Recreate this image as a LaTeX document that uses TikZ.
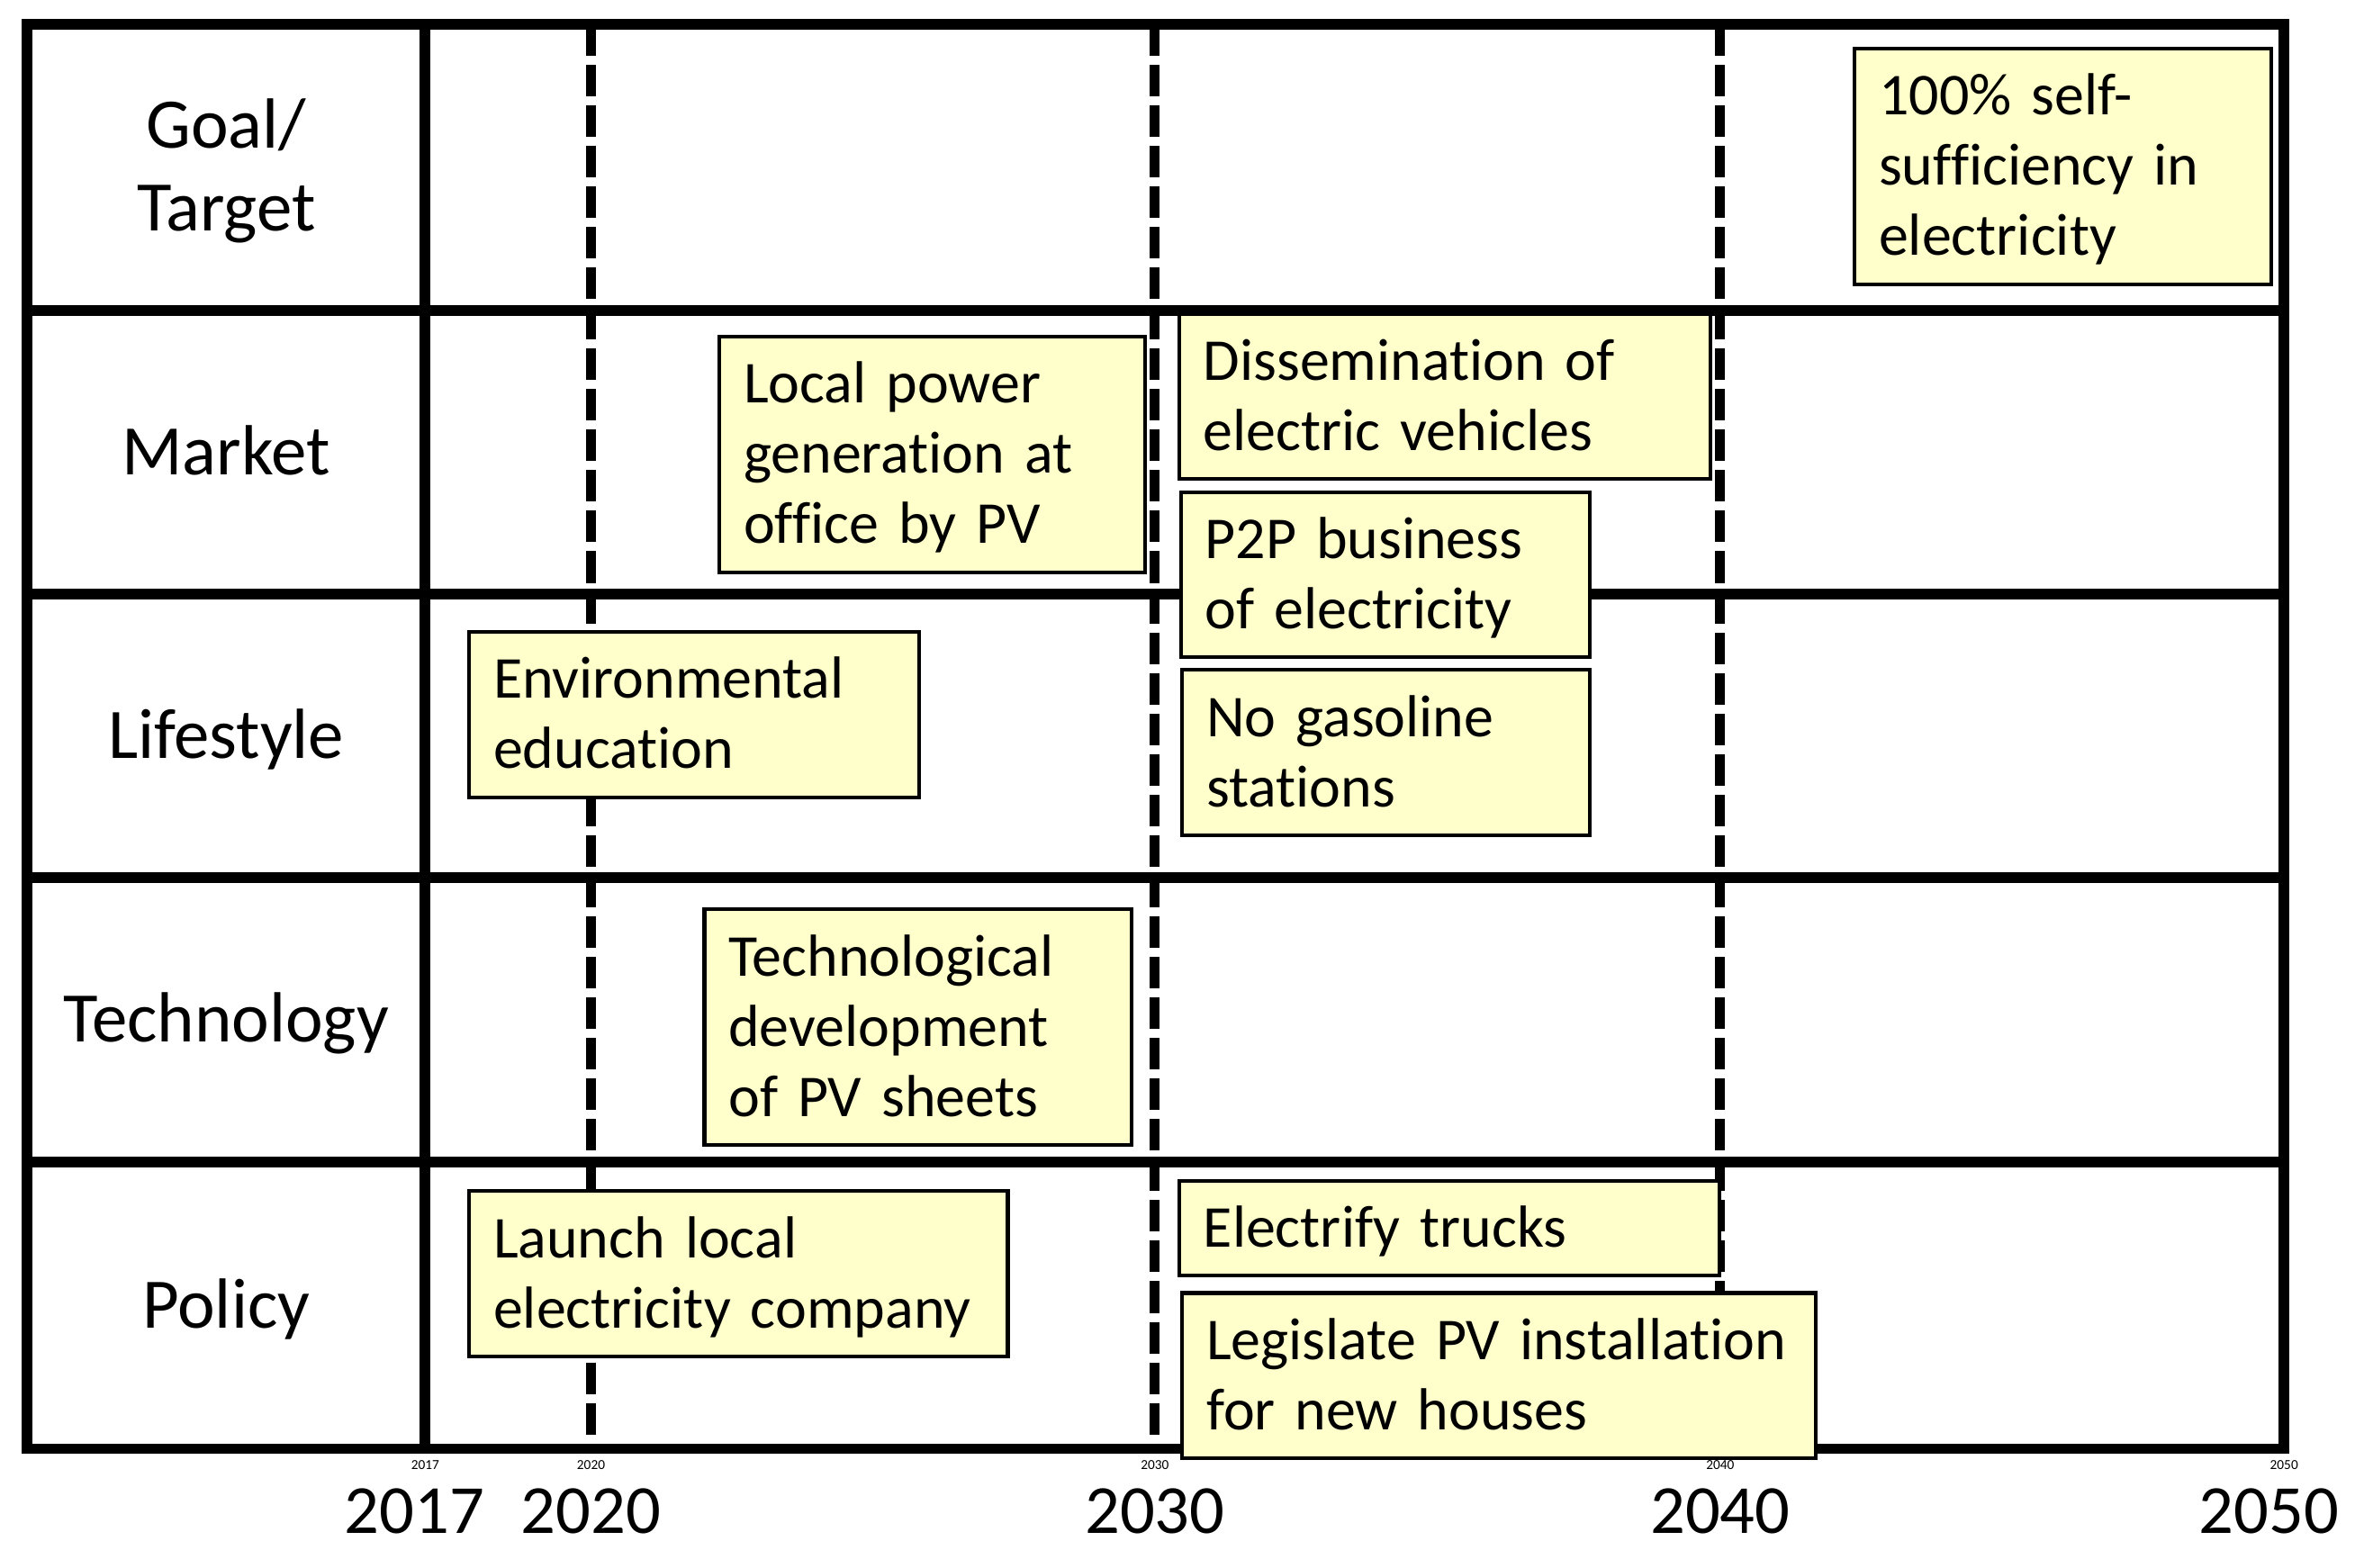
\documentclass[tikz,border=0pt]{standalone}
\usepackage{fontspec}
\setmainfont{Carlito}[Ligatures=NoCommon]
\usetikzlibrary{positioning}
\usetikzlibrary{calc}

\definecolor{notefill}{RGB}{255,255,204}
\newcommand{\notestrut}{\rule[-3.07pt]{0pt}{13.26pt}}
\newcommand{\rowstrut}{\rule[-3.55pt]{0pt}{15.6pt}}
\hyphenpenalty=10000

\begin{document}
\begin{tikzpicture}[x=0.01cm,y=-0.01cm]
  \tikzset{gridline/.style={line width=2pt},
           colline/.style={line width=2pt},
           yearline/.style={line width=1.9pt,dash pattern=on 5.95pt off 1.7pt},
           rowlabel/.style={font=\fontsize{13.4}{15.6}\selectfont,align=center,inner sep=0pt},
           yearlabel/.style={font=\fontsize{13}{15.6}\selectfont,anchor=base,inner sep=0pt},
           ticklabel/.style={font=\fontsize{2.6}{3}\selectfont,inner sep=0pt},
           notebox/.style={draw,line width=0.7pt,fill=notefill,anchor=north west,
                           text width=#1,align=left,inner xsep=0.16cm,inner ysep=0.082cm,
                           font=\fontsize{11.2}{13.26}\selectfont}}
  \useasboundingbox (0,0) rectangle (1568,1040);

  \draw[gridline] (18,16) rectangle (1515,961);
  \foreach \y in {206,394,582,771}
    \draw[gridline] (18,\y) -- (1515,\y);
  \draw[colline] (282,16) -- (282,961);
  \foreach \x in {392,766,1141}
    \draw[yearline] (\x,16) -- (\x,961);

  \node[rowlabel] (goallbl) at (150,111) {\rowstrut Goal/\\\rowstrut Target};
  \node[rowlabel] (marketlbl) at (150,300) {\rowstrut Market};
  \node[rowlabel] (lifelbl) at (150,488) {\rowstrut Lifestyle};
  \node[rowlabel] (techlbl) at (150,676) {\rowstrut Technology};
  \node[rowlabel] (policylbl) at (150,866) {\rowstrut Policy};

  \foreach \yr/\xt/\xb in {2017/282/275,2020/392/392,2030/766/766,2040/1141/1141,2050/1515/1505} {
    \node[ticklabel] (tick\yr) at (\xt,972) {\yr};
    \node[yearlabel] (year\yr) at (\xb,1017) {\yr};
  }

  \node[notebox=2.44cm] (selfsuff) at (1229,31) {\notestrut 100\% self-\\\notestrut sufficiency in\\\notestrut electricity};
  \node[notebox=2.50cm] (localpv) at (476,222) {\notestrut Local power\\\notestrut generation at\\\notestrut office by PV};
  \node[notebox=3.20cm] (evs) at (781,207) {\notestrut Dissemination of\\\notestrut electric vehicles};
  \node[notebox=2.39cm,below right=0.6mm and 0.1mm of evs.south west] (ptop) {\notestrut P2P business\\\notestrut of electricity};
  \node[notebox=2.38cm,below right=0.6mm and 0.1mm of ptop.south west] (nogas) {\notestrut No gasoline\\\notestrut stations};
  \node[notebox=2.66cm] (envedu) at (310,418) {\notestrut Environmental\\\notestrut education};
  \node[notebox=2.51cm] (pvsheet) at (466,602) {\notestrut Technological\\\notestrut development\\\notestrut of PV sheets};
  \node[notebox=3.25cm] (launch) at (310,789) {\notestrut Launch local\\\notestrut electricity company};
  \node[notebox=3.26cm] (trucks) at (781,782) {\notestrut Electrify trucks};
  \node[notebox=3.88cm,below right=0.9mm and 0.2mm of trucks.south west] (legis) {\notestrut Legislate PV installation\\\notestrut for new houses};
\end{tikzpicture}
\end{document}
